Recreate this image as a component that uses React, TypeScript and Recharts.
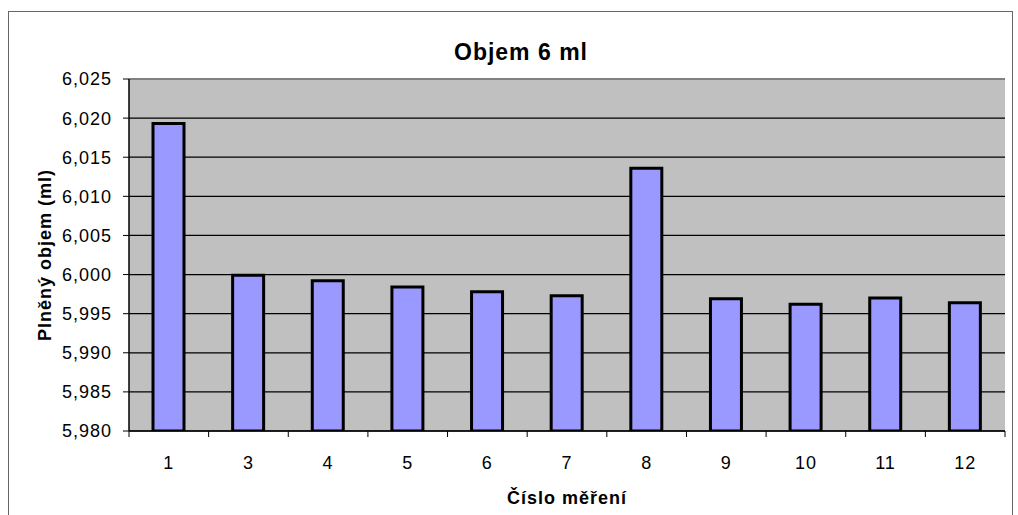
import { Bar, BarChart, CartesianGrid, ReferenceLine, XAxis, YAxis } from "recharts";

const measurements = ["1", "3", "4", "5", "6", "7", "8", "9", "10", "11", "12"];
const volumes = [6.0193, 5.9999, 5.9992, 5.9984, 5.9978, 5.9973, 6.0136, 5.9969, 5.9962, 5.997, 5.9964];
const yTicks = [5.98, 5.985, 5.99, 5.995, 6.0, 6.005, 6.01, 6.015, 6.02, 6.025];

const data = measurements.map((m, i) => ({ name: m, value: volumes[i] }));

const FONT = "'Liberation Sans', Arial, sans-serif";
const fmt = (v: number) => v.toFixed(3).replace(".", ",");

// Excel draws the category ticks between the bars, so each label also draws the tick on its left edge
const CatTick = (props: any) => {
    const { x, y, payload, index, visibleTicksCount } = props;
    const half = payload?.offset ?? 0;
    const axisY = y - 25;
    const isLast = index === visibleTicksCount - 1;
    return (
        <g>
            <line x1={x - half} x2={x - half} y1={axisY} y2={axisY + 6} stroke="#000" />
            {isLast && <line x1={x + half} x2={x + half} y1={axisY} y2={axisY + 6} stroke="#000" />}
            <text x={x} y={y} dy="0.71em" textAnchor="middle" fill="#000" fontSize={18} fontFamily={FONT} letterSpacing={1}>
                {payload.value}
            </text>
        </g>
    );
};

export default function App() {
    return (
        <div style={{ position: "fixed", left: 0, top: 0, width: 1018, height: 515, background: "#fff", overflow: "hidden", fontFamily: FONT }}>
            <div style={{ position: "absolute", left: 8, top: 11, width: 1003, height: 520, border: "1px solid #666" }} />
            <div style={{ position: "absolute", left: 371, top: 41, width: 300, textAlign: "center", fontSize: 23, lineHeight: "23px", fontWeight: "bold", letterSpacing: 1, color: "#000" }}>
                Objem 6 ml
            </div>
            <div style={{ position: "absolute", left: 0, top: 0 }}>
                <BarChart width={1018} height={515} data={data} margin={{ top: 79, right: 13, left: 0, bottom: 0 }}>
                    <CartesianGrid vertical={false} stroke="#000" strokeWidth={1.2} fill="#C0C0C0" fillOpacity={1} />
                    <XAxis
                        dataKey="name"
                        height={84}
                        tickSize={0}
                        tickMargin={25}
                        tickLine={false}
                        axisLine={{ stroke: "#000", strokeWidth: 1.5 }}
                        tick={<CatTick />}
                        interval={0}
                        label={{ value: "Číslo měření", position: "insideBottom", offset: 11, fill: "#000", fontSize: 18, fontWeight: "bold", fontFamily: FONT, letterSpacing: 1 }}
                    />
                    <YAxis
                        width={129}
                        domain={[5.98, 6.025]}
                        ticks={yTicks}
                        allowDataOverflow
                        tickFormatter={fmt}
                        tickSize={6}
                        tickMargin={11}
                        axisLine={{ stroke: "#000", strokeWidth: 1.5 }}
                        tickLine={{ stroke: "#000" }}
                        tick={{ fill: "#000", fontSize: 18, fontFamily: FONT, letterSpacing: 1 }}
                        label={{ value: "Plněný objem (ml)", angle: -90, position: "insideLeft", offset: 45, fill: "#000", fontSize: 18, fontWeight: "bold", fontFamily: FONT, letterSpacing: 1, style: { textAnchor: "middle" } }}
                    />
                    <YAxis
                        yAxisId="right"
                        orientation="right"
                        width={0}
                        domain={[5.98, 6.025]}
                        tick={false}
                        tickLine={false}
                        axisLine={{ stroke: "#808080", strokeWidth: 2 }}
                    />
                    <ReferenceLine y={6.025} stroke="#808080" strokeWidth={2} />
                    <Bar dataKey="value" fill="#9999FF" stroke="#000" strokeWidth={3} barSize={31} isAnimationActive={false} />
                </BarChart>
            </div>
        </div>
    );
}
